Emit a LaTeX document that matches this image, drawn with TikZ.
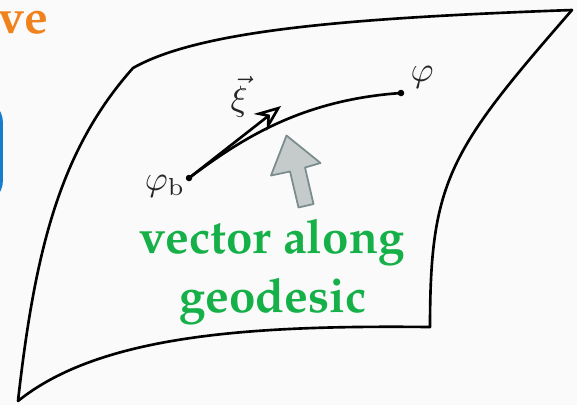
\documentclass[tikz,border=0pt]{standalone}
\usepackage[T1,TU]{fontenc}
\usetikzlibrary{arrows.meta}
\definecolor{bgcol}{RGB}{250,250,250}
\definecolor{geogreen}{RGB}{22,176,72}
\definecolor{titleorange}{RGB}{240,130,30}
\definecolor{boxblue}{RGB}{20,125,205}
\definecolor{hintfill}{RGB}{197,203,203}
\definecolor{hintdraw}{RGB}{122,140,140}
\newcommand{\palbold}{\fontencoding{T1}\fontfamily{ppl}\fontseries{b}\fontsize{13.5}{16}\selectfont}
\begin{document}
\begin{tikzpicture}[x=0.01cm,y=-0.01cm,
  surf/.style={line width=0.75pt, line join=round},
  dot/.style={circle,fill=black,inner sep=0pt,minimum size=0.065cm},
  lbl/.style={text=black!85, inner sep=0pt},
  gtxt/.style={text=geogreen, inner sep=0pt, font=\palbold}]
\useasboundingbox (0,0) rectangle (577,405);
\clip (0,0) rectangle (577,405);
\fill[bgcol] (0,0) rectangle (577,405);

\draw[boxblue,line width=0.9pt,rounded corners=6] (-60,101) rectangle (1.3,202);
\node[text=titleorange, inner sep=0pt, anchor=base east, font=\palbold] (title) at (49,33) {ve};

\draw[surf] (18,401) .. controls (35,250) and (60,150) .. (133,68)
  .. controls (200,30) and (350,18) .. (572,10)
  .. controls (450,150) and (430,180) .. (430,327)
  .. controls (250,325) and (100,335) .. (18,401) -- cycle;

\node[dot] (phib) at (189,178) {};
\node[dot] (phi) at (401,93) {};
\coordinate (xitip) at (281,106);
\draw[line width=0.75pt] (phib.center) .. controls (240,140) and (300,100) .. (phi.center);
\draw[line width=0.75pt,-{Stealth[open,length=7.5pt,width=6pt,inset=2.5pt]}] (phib.center) -- (xitip);

\node[lbl] (phil) at (422,77) {$\varphi$};
\node[lbl] (phibl) at (165,186) {$\varphi_{\mathrm{b}}$};
\node[lbl] (xil) at (239,97) {$\vec{\xi}$};

\draw[fill=hintfill,draw=hintdraw,line width=0.5pt,line join=round]
  (286.5,135.5) -- (320.5,163) -- (305,167.5) -- (313.5,204) -- (298.5,207.5) -- (290,171.5) -- (271,175.5) -- cycle;

\node[gtxt,anchor=base] (gtxta) at (272,253) {vector along};
\node[gtxt,anchor=base] (gtxtb) at (273,312) {geodesic};
\end{tikzpicture}
\end{document}
